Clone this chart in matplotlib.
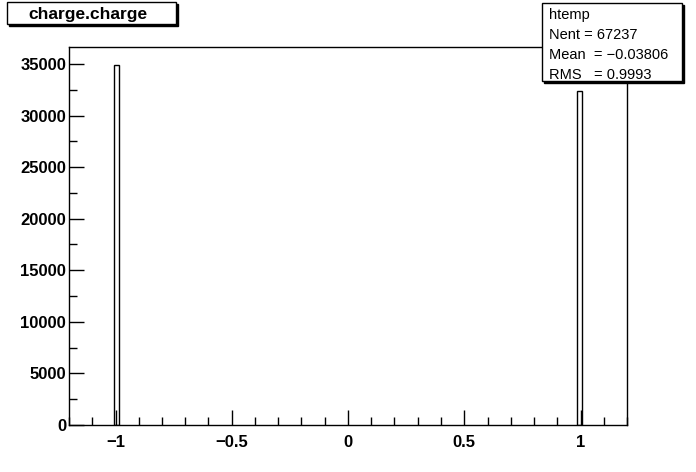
import matplotlib
matplotlib.use("Agg")
import matplotlib.pyplot as plt
from matplotlib.patches import Rectangle
from matplotlib.ticker import MultipleLocator

# histogram data (htemp: charge.charge)
bin_centers = [-0.996, 0.996]
bin_counts = [34898, 32339]
bin_width = 0.024
x_range = [-1.2, 1.2]
y_max = 36643

title_text = "charge.charge"
stats_lines = ["htemp", "Nent = 67237", "Mean  = -0.03806", "RMS   = 0.9993"]

plt.rcParams['font.family'] = ['Liberation Sans', 'DejaVu Sans']

fig = plt.figure(figsize=(6.96, 4.72), dpi=100)
W, H = 696, 472
ax = fig.add_axes([69 / W, 1 - 425 / H, (627 - 69) / W, (425 - 47) / H])

ax.bar(bin_centers, bin_counts, width=bin_width, fill=False,
       edgecolor='black', linewidth=1.0)

ax.set_xlim(*x_range)
ax.set_ylim(0, y_max)

ax.xaxis.set_major_locator(MultipleLocator(0.5))
ax.xaxis.set_minor_locator(MultipleLocator(0.1))
ax.yaxis.set_major_locator(MultipleLocator(5000))
ax.yaxis.set_minor_locator(MultipleLocator(2500))
ax.tick_params(which='both', direction='in', top=False, right=False,
               width=1, color='black')
ax.tick_params(which='major', length=11, labelsize=12, pad=7)
ax.tick_params(which='minor', length=6)
ax.set_xticks([-1, -0.5, 0, 0.5, 1])
ax.set_xticklabels(['\u22121', '\u22120.5', '0', '0.5', '1'])
for lab in ax.get_xticklabels() + ax.get_yticklabels():
    lab.set_fontweight('bold')
ax.tick_params(axis='y', pad=2)
for s in ax.spines.values():
    s.set_linewidth(1.0)


def px_box(x0, y0, x1, y1, shadow=2):
    # shadow then box, in pixel coordinates (top-left origin)
    fig.patches.append(Rectangle(((x0 + shadow) / W, 1 - (y1 + shadow) / H),
                                 (x1 - x0) / W, (y1 - y0) / H,
                                 transform=fig.transFigure, facecolor='black',
                                 edgecolor='black', zorder=5))
    fig.patches.append(Rectangle((x0 / W, 1 - y1 / H), (x1 - x0) / W, (y1 - y0) / H,
                                 transform=fig.transFigure, facecolor='white',
                                 edgecolor='black', linewidth=1, zorder=6))


px_box(7, 2, 176, 24)
fig.text(88 / W, 1 - 14 / H, title_text, ha='center', va='center',
         fontsize=12.5, fontweight='bold', zorder=7)

px_box(542, 3, 682, 81)
for i, line in enumerate(stats_lines):
    fig.text(549 / W, 1 - (15 + 20 * i) / H, line.replace('-', '\u2212'),
             ha='left', va='center', fontsize=10.5, zorder=7)

fig.savefig("out.png", dpi=100)
